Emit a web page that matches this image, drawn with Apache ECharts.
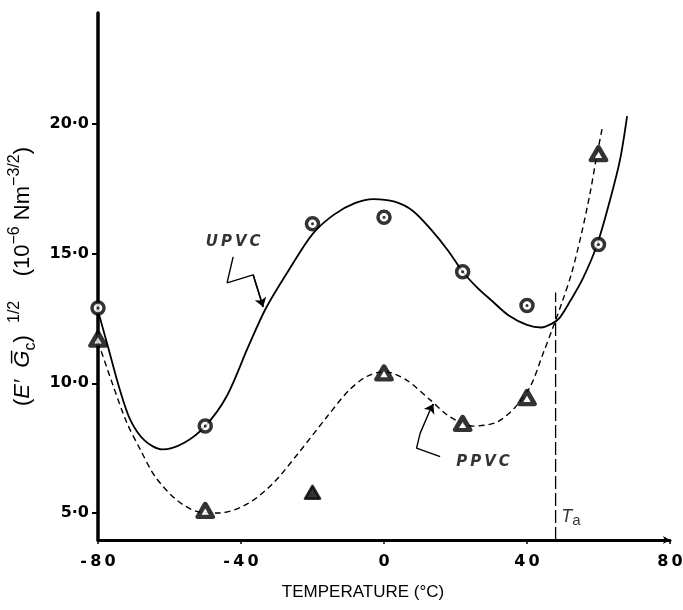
<!DOCTYPE html>
<html>
<head>
<meta charset="utf-8">
<script src="https://cdn.jsdelivr.net/npm/echarts@6/dist/echarts.min.js"></script>
<style>
  html, body { margin: 0; background: #fff; }
  #chart { width: 683px; height: 610px; }
</style>
</head>
<body>
<div id="chart"></div>
<script>
// axis ticks
const xTicks = [-80, -40, 0, 40, 80]
const yTicks = [5, 10, 15, 20]

// measured points (temperature °C, value)
const upvcTemp = [-80, -50, -20, 0, 22, 40, 60]
const upvcValue = [12.9, 8.35, 16.15, 16.4, 14.3, 13.0, 15.35]
const ppvcTemp = [-80, -50, 0, 22, 40, 60]
const ppvcValue = [11.7, 5.1, 10.4, 8.45, 9.45, 18.85]
const ppvcOddTemp = [-20]
const ppvcOddValue = [5.8]

// drawn curves
const upvcCurveTemp = [-80, -77, -74, -71, -67, -62, -56, -50, -44, -38, -33, -26, -20, -14, -8, -3, 3, 8, 13, 18, 22, 26, 30, 35, 40, 44, 47, 49, 52, 55.5, 59.5, 63, 66, 68]
const upvcCurveValue = [12.8, 11.3, 9.8, 8.6, 7.8, 7.45, 7.7, 8.35, 9.5, 11.4, 12.9, 14.5, 15.75, 16.5, 16.95, 17.1, 17.0, 16.65, 15.95, 15.1, 14.3, 13.7, 13.2, 12.6, 12.25, 12.15, 12.3, 12.5, 13.15, 14.0, 15.3, 16.95, 18.6, 20.3]
const ppvcCurveTemp = [-80, -76, -72, -68, -64, -58, -52, -46, -38, -31, -24, -16, -10, -5, 0, 6, 13, 18.5, 25, 31.5, 36.5, 41, 44.5, 47, 50, 52.5, 55.3, 57.6, 59.3, 61]
const ppvcCurveValue = [11.6, 10.0, 8.5, 7.4, 6.4, 5.5, 5.05, 5.0, 5.37, 6.15, 7.3, 8.7, 9.7, 10.25, 10.45, 10.15, 9.35, 8.7, 8.35, 8.5, 9.05, 9.9, 11.15, 12.05, 13.2, 14.25, 15.8, 17.3, 18.6, 19.8]

// T_a marker
const taTemp = 48
const taTop = 13.5

// annotation arrows (data units), last segment carries the head
const upvcArrow = [[-42.2, 14.87], [-43.9, 13.87], [-36.6, 14.18], [-33.8, 12.94]]
const ppvcArrow = [[15.7, 7.17], [9.1, 7.5], [10.1, 8.07], [12.9, 8.97], [13.8, 9.2]]

const yMin = 3.96
const yMax = 24.27

const zip = (a, b) => a.map((v, i) => [v, b[i]])
const lastSeg = a => ({ coords: a.slice(-2) })

const chart = echarts.init(document.getElementById('chart'))

const tagLabel = {
  show: true,
  position: 'inside',
  fontFamily: 'DejaVu Sans',
  fontWeight: 'bold',
  fontStyle: 'italic',
  fontSize: 15,
  color: '#000'
}

const option = {
  animation: false,
  backgroundColor: '#fff',
  grid: { left: 98, right: 13, top: 13, bottom: 70, outerBoundsMode: 'none' },
  xAxis: {
    type: 'value',
    min: -80,
    max: 80,
    interval: 40,
    name: 'TEMPERATURE (°C)',
    nameLocation: 'middle',
    nameGap: 44,
    nameTextStyle: {
      fontFamily: 'Liberation Sans',
      fontSize: 17,
      color: '#000',
      padding: [0, 42, 0, 0]
    },
    axisLine: {
      onZero: false,
      lineStyle: { color: '#000', width: 3 },
      symbol: ['none', 'arrow'],
      symbolSize: [6, 7]
    },
    axisTick: { show: true, length: 4, lineStyle: { color: '#000', width: 1.5 } },
    axisLabel: {
      margin: 14,
      fontFamily: 'DejaVu Sans',
      fontWeight: 'bold',
      fontSize: 16,
      color: '#000',
      formatter: v => String(v).split('').join('\u2009')
    },
    splitLine: { show: false }
  },
  yAxis: {
    type: 'value',
    min: yMin,
    max: yMax,
    name: '{p|(}{i|E′  G̅}{sub|c}{p|)  }{sup|1/2}{p|    (10}{sup|−6}{p| Nm}{sup|−3/2}{p|)}',
    nameLocation: 'middle',
    nameGap: 53,
    nameTextStyle: {
      color: '#000',
      rich: {
        p: { fontFamily: 'Liberation Sans', fontSize: 22, lineHeight: 32, color: '#000' },
        i: { fontFamily: 'Liberation Sans', fontSize: 22, lineHeight: 32, fontStyle: 'italic', color: '#000' },
        sup: { fontFamily: 'Liberation Sans', fontSize: 16, lineHeight: 17, verticalAlign: 'top', color: '#000' },
        sub: { fontFamily: 'Liberation Sans', fontSize: 16, lineHeight: 17, verticalAlign: 'bottom', color: '#000' }
      }
    },
    axisLine: { show: true, onZero: false, lineStyle: { color: '#000', width: 3.5 } },
    axisTick: { show: true, length: 6, customValues: yTicks, lineStyle: { color: '#000', width: 2 } },
    axisLabel: {
      margin: 9,
      customValues: yTicks,
      fontFamily: 'DejaVu Sans',
      fontWeight: 'bold',
      fontSize: 16,
      color: '#000',
      formatter: v => v.toFixed(1).replace('.', '·')
    },
    splitLine: { show: false }
  },
  series: [
    {
      name: 'UPVC curve',
      type: 'line',
      data: zip(upvcCurveTemp, upvcCurveValue),
      smooth: 0.3,
      showSymbol: false,
      lineStyle: { color: '#000', width: 1.8 }
    },
    {
      name: 'PPVC curve',
      type: 'line',
      data: zip(ppvcCurveTemp, ppvcCurveValue),
      smooth: 0.3,
      showSymbol: false,
      lineStyle: { color: '#000', width: 1.4, type: [6, 4] }
    },
    {
      name: 'Ta',
      type: 'line',
      data: [[taTemp, yMin], [taTemp, taTop]],
      showSymbol: false,
      lineStyle: { color: '#000', width: 1.3, type: [13, 4] }
    },
    {
      name: 'UPVC arrow',
      type: 'line',
      data: upvcArrow,
      showSymbol: false,
      lineStyle: { color: '#000', width: 1.4 }
    },
    {
      name: 'PPVC arrow',
      type: 'line',
      data: ppvcArrow,
      showSymbol: false,
      lineStyle: { color: '#000', width: 1.4 }
    },
    {
      name: 'arrow heads',
      type: 'lines',
      coordinateSystem: 'cartesian2d',
      symbol: ['none', 'arrow'],
      symbolSize: 9,
      lineStyle: { color: '#000', width: 1.4, opacity: 1 },
      data: [lastSeg(upvcArrow), lastSeg(ppvcArrow)]
    },
    {
      name: 'UPVC',
      type: 'scatter',
      data: zip(upvcTemp, upvcValue),
      symbol: 'circle',
      symbolSize: 12,
      itemStyle: { color: '#fff', borderColor: '#000', borderWidth: 3.5 },
      z: 5
    },
    {
      name: 'UPVC dot',
      type: 'scatter',
      data: zip(upvcTemp, upvcValue),
      symbol: 'circle',
      symbolSize: 3,
      itemStyle: { color: '#000' },
      z: 6
    },
    {
      name: 'PPVC',
      type: 'scatter',
      data: zip(ppvcTemp, ppvcValue),
      symbol: 'triangle',
      symbolSize: [15, 13],
      itemStyle: { color: '#fff', borderColor: '#000', borderWidth: 4.5, borderJoin: 'round' },
      z: 5
    },
    {
      name: 'PPVC odd',
      type: 'scatter',
      data: zip(ppvcOddTemp, ppvcOddValue),
      symbol: 'triangle',
      symbolSize: [15, 13],
      itemStyle: { color: '#000', borderColor: '#000', borderWidth: 2.5, borderJoin: 'round' },
      z: 5
    },
    {
      name: 'labels',
      type: 'scatter',
      symbolSize: 1,
      itemStyle: { color: 'rgba(0,0,0,0)' },
      silent: true,
      data: [
        { value: [-42.2, 15.45], label: { ...tagLabel, formatter: 'U\u2009P\u2009V\u2009C' } },
        { value: [27.7, 6.97], label: { ...tagLabel, formatter: 'P\u2009P\u2009V\u2009C' } },
        {
          value: [52.3, 4.85],
          label: {
            show: true,
            position: 'inside',
            formatter: '{t|T}{s|a}',
            rich: {
              t: { fontFamily: 'Liberation Sans', fontStyle: 'italic', fontSize: 18, lineHeight: 22, color: '#000' },
              s: { fontFamily: 'Liberation Sans', fontSize: 15, lineHeight: 14, verticalAlign: 'bottom', color: '#000' }
            }
          }
        }
      ]
    }
  ]
}

chart.setOption(option)
</script>
</body>
</html>
